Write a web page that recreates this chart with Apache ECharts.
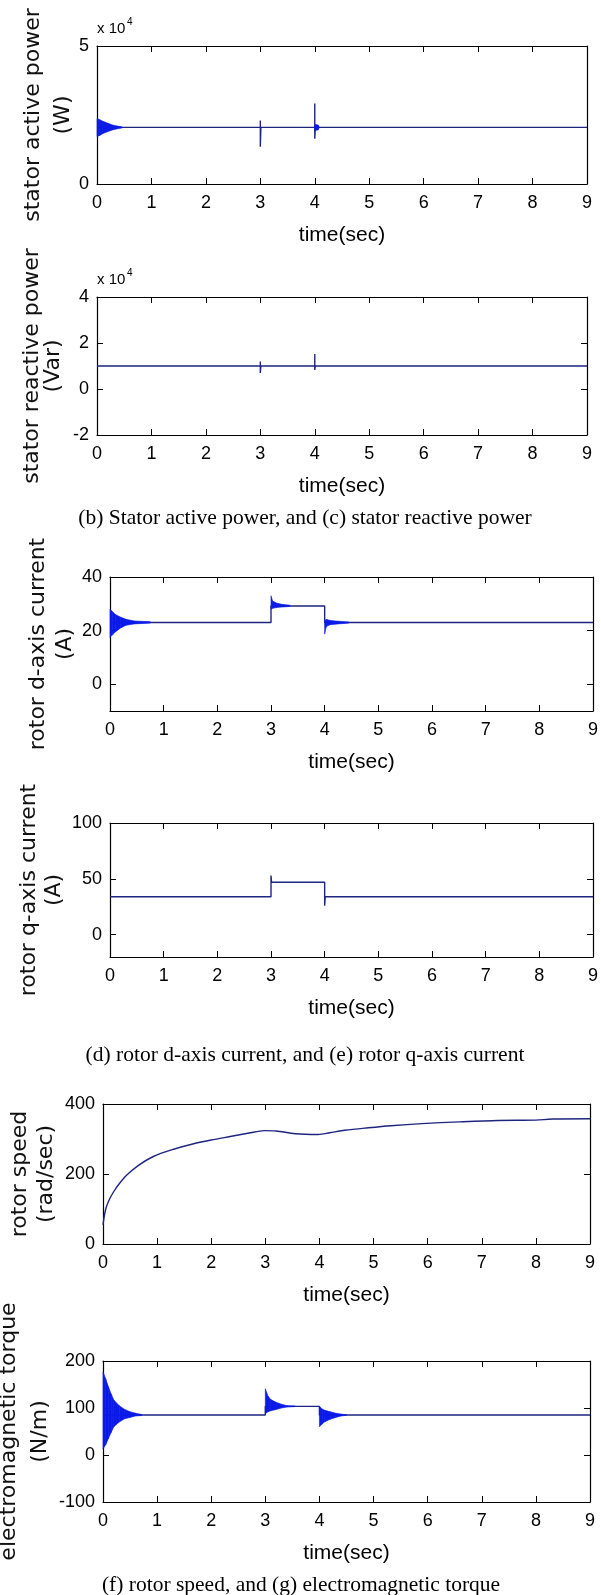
<!DOCTYPE html>
<html><head><meta charset="utf-8">
<script src="https://cdn.jsdelivr.net/npm/echarts@6/dist/echarts.min.js"></script>
<style>html,body{margin:0;padding:0;background:#fff}#c{width:601px;height:1595px}</style>
</head><body><div id="c"></div><script>
// ---------- DATA ----------
const xTicks = [0, 1, 2, 3, 4, 5, 6, 7, 8, 9];
const xName = 'time(sec)';

// (b) stator active power, x 10^4 W
const yTicksP = [0, 5];
const activeLine = [[0,2.05],[3,2.05],[3,2.3],[3,1.35],[3.01,2.05],[4,2.05],[4,2.92],[4,1.64],[4.01,2.05],[9,2.05]];
const activeBand0 = [[0,1.72,2.37],[0.05,1.76,2.33],[0.1,1.82,2.28],[0.2,1.9,2.2],[0.3,1.97,2.13],[0.4,2.01,2.09],[0.46,2.03,2.07]];
const activeBand4 = [[4.0,1.94,2.16],[4.06,1.96,2.14],[4.08,2.03,2.07]];

// (c) stator reactive power, x 10^4 Var
const yTicksQ = [-2, 0, 2, 4];
const reactiveLine = [[0,1.0],[3,1.0],[3,1.2],[3,0.7],[3.01,1.0],[4,1.0],[4,1.52],[4,0.83],[4.01,1.0],[9,1.0]];

// (d) rotor d-axis current, A
const yTicksD = [0, 20, 40];
const dLine = [[0,23],[3,23],[3,29.2],[4,29.2],[4,23],[9,23]];
const dBand0 = [[0,17.5,28],[0.05,18.5,27],[0.1,19.5,26],[0.2,21,25],[0.3,22,24.2],[0.45,22.5,23.6],[0.75,22.8,23.3]];
const dBand3 = [[3,28,33],[3.03,28.3,31],[3.1,28.6,30.3],[3.2,28.8,29.8],[3.35,29,29.5]];
const dBand4 = [[4,18.7,23.5],[4.03,21.5,24.2],[4.1,22.2,23.8],[4.25,22.5,23.5],[4.45,22.8,23.2]];

// (e) rotor q-axis current, A
const yTicksQc = [0, 50, 100];
const qLine = [[0,34],[3,34],[3,53],[3.01,47],[4,47],[4,26],[4.01,34],[9,34]];

// (f) rotor speed, rad/sec
const yTicksW = [0, 200, 400];
const speedLine = [[0,55],[0.03,85],[0.06,105],[0.12,128],[0.2,150],[0.3,172],[0.44,197],[0.65,224],[0.93,250],[1.29,270],[1.64,285],[2.0,297],[2.35,307],[2.7,317],[2.98,324],[3.2,323],[3.55,315],[3.98,313],[4.19,318],[4.47,325],[4.9,332],[5.32,338],[5.89,344],[6.59,349],[7.3,353],[8.0,354],[8.3,357],[9,358]];

// (g) electromagnetic torque, N/m
const yTicksT = [-100, 0, 100, 200];
const torqueLine = [[0,85],[3,85],[3,103.5],[4,103.5],[4,85],[9,85]];
const torqueBand0 = [[0,13,177],[0.05,22,162],[0.1,35,145],[0.15,48,130],[0.2,60,117],[0.3,70,105],[0.4,77,97],[0.5,80,92],[0.6,83,89],[0.72,84,86]];
const torqueBand3 = [[3,88,141],[3.05,92,125],[3.1,94,118],[3.2,97,112],[3.3,100,108],[3.4,102,105],[3.55,103,104.5]];
const torqueBand4 = [[4,60,103.5],[4.05,66,98],[4.1,71,95],[4.2,76,92],[4.3,80,89],[4.4,83,87],[4.5,84.5,85.5]];

const yNames = [
  ['stator active power', '(W)'],
  ['stator reactive power', '(Var)'],
  ['rotor d-axis current', '(A)'],
  ['rotor q-axis current', '(A)'],
  ['rotor speed', '(rad/sec)'],
  ['electromagnetic torque', '(N/m)']
];
const captions = [
  '(b) Stator active power, and (c) stator reactive power',
  '(d) rotor d-axis current, and (e) rotor q-axis current',
  '(f) rotor speed, and (g) electromagnetic torque'
];

// ---------- LAYOUT ----------
const grids = [
  {left: 97,  top: 46,   width: 490, height: 138},
  {left: 97,  top: 297,  width: 490, height: 138},
  {left: 110, top: 577,  width: 483, height: 134},
  {left: 110, top: 823,  width: 483, height: 134},
  {left: 103, top: 1104, width: 487, height: 140},
  {left: 103, top: 1361, width: 487, height: 141}
];
const yRanges = [[0,5],[-2,4],[-10,40],[-20,100],[0,400],[-100,200]];
const yTickSets = [yTicksP, yTicksQ, yTicksD, yTicksQc, yTicksW, yTicksT];
const yNameX = [[33,63],[32,53],[38,65],[29,54],[20,46],[9,40]];
const captionPos = [[305, 518], [305, 1055], [301, 1585]];

const LINE = '#1d2580';
const BAND = '#0a1ae8';
const NARROW = "'Liberation Sans Narrow', 'Liberation Sans', Arial, sans-serif";

const xAxes = [], yAxes = [], series = [], graphics = [];
grids.forEach((g, k) => {
  const base = {
    gridIndex: k, type: 'value', min: 0, max: 9,
    axisLine: {show: true, onZero: false, lineStyle: {color: '#000', width: 1.2}},
    axisTick: {show: true, inside: true, length: 6, customValues: xTicks, lineStyle: {color: '#000'}},
    splitLine: {show: false}
  };
  xAxes.push(Object.assign({}, base, {
    position: 'bottom',
    axisLabel: {show: true, customValues: xTicks, margin: 10, color: '#000', fontSize: 18, fontFamily: NARROW},
    name: xName, nameLocation: 'middle', nameGap: 41,
    nameTextStyle: {color: '#000', fontSize: 21, fontFamily: NARROW}
  }));
  xAxes.push(Object.assign({}, base, {position: 'top', axisLabel: {show: false}}));
  const yb = {
    gridIndex: k, type: 'value', min: yRanges[k][0], max: yRanges[k][1],
    axisLine: {show: true, onZero: false, lineStyle: {color: '#000', width: 1.2}},
    axisTick: {show: true, inside: true, length: 6, customValues: yTickSets[k], lineStyle: {color: '#000'}},
    splitLine: {show: false}
  };
  yAxes.push(Object.assign({}, yb, {
    position: 'left',
    axisLabel: {show: true, customValues: yTickSets[k], margin: 8, color: '#000', fontSize: 18, fontFamily: NARROW}
  }));
  yAxes.push(Object.assign({}, yb, {position: 'right', axisLabel: {show: false}}));

  const cy = g.top + g.height / 2;
  yNames[k].forEach((t, j) => {
    graphics.push({type: 'text', x: yNameX[k][j], y: cy, rotation: Math.PI / 2,
      style: {text: t, fill: '#111', fontSize: 22, fontFamily: "'DejaVu Sans', sans-serif",
        align: 'center', verticalAlign: 'middle', textAlign: 'center', textVerticalAlign: 'middle'}});
  });
});

// "x 10^4" multipliers
[0, 1].forEach(k => {
  const g = grids[k];
  graphics.push({type: 'text', x: g.left, y: g.top - 17,
    style: {text: 'x 10', fill: '#000', fontSize: 15, fontFamily: NARROW, align: 'left', verticalAlign: 'middle', textAlign: 'left', textVerticalAlign: 'middle'}});
  graphics.push({type: 'text', x: g.left + 30, y: g.top - 24,
    style: {text: '4', fill: '#000', fontSize: 10, fontFamily: NARROW, align: 'left', verticalAlign: 'middle', textAlign: 'left', textVerticalAlign: 'middle'}});
});

captions.forEach((c, i) => {
  graphics.push({type: 'text', x: captionPos[i][0], y: captionPos[i][1],
    style: {text: c, fill: '#000', fontSize: 21.5, fontFamily: "'Liberation Serif', 'Times New Roman', serif",
      align: 'center', verticalAlign: 'middle', textAlign: 'center', textVerticalAlign: 'middle'}});
});

function lineSeries(k, data) {
  return {type: 'line', xAxisIndex: 2 * k, yAxisIndex: 2 * k, data: data, showSymbol: false, symbol: 'none',
    lineStyle: {color: LINE, width: 1.4}, z: 3, animation: false};
}
function bandSeries(k, band) {
  return {
    type: 'custom', xAxisIndex: 2 * k, yAxisIndex: 2 * k, data: band, encode: {x: 0, y: [1, 2]}, z: 4,
    renderItem: function (params, api) {
      const i = params.dataIndex;
      if (i >= band.length - 1) return null;
      const a = band[i], b = band[i + 1];
      const pts = [api.coord([a[0], a[2]]), api.coord([b[0], b[2]]), api.coord([b[0], b[1]]), api.coord([a[0], a[1]])];
      return {type: 'polygon', shape: {points: pts}, style: {fill: BAND, stroke: BAND, lineWidth: 0.6}};
    }
  };
}

series.push(lineSeries(0, activeLine), bandSeries(0, activeBand0), bandSeries(0, activeBand4));
series.push(lineSeries(1, reactiveLine));
series.push(lineSeries(2, dLine), bandSeries(2, dBand0), bandSeries(2, dBand3), bandSeries(2, dBand4));
series.push(lineSeries(3, qLine));
series.push(Object.assign(lineSeries(4, speedLine), {smooth: 0.3}));
series.push(lineSeries(5, torqueLine), bandSeries(5, torqueBand0), bandSeries(5, torqueBand3), bandSeries(5, torqueBand4));

const chart = echarts.init(document.getElementById('c'), null, {renderer: 'canvas'});
chart.setOption({
  animation: false,
  backgroundColor: '#fff',
  grid: grids.map(g => Object.assign({containLabel: false, show: false}, g)),
  xAxis: xAxes,
  yAxis: yAxes,
  series: series,
  graphic: {elements: graphics}
});
</script></body></html>
